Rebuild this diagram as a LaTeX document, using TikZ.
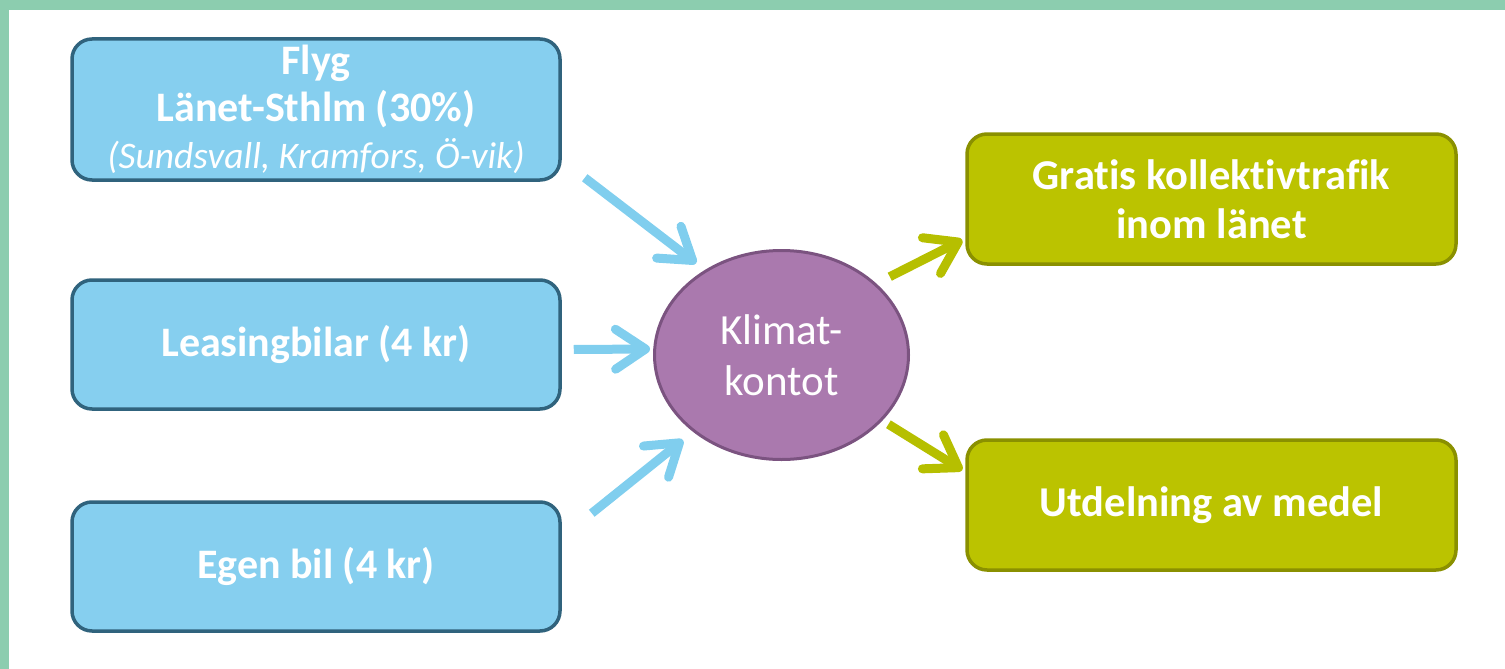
\documentclass[tikz,border=0pt]{standalone}
\usepackage{fontspec}
\setmainfont{Carlito}[Ligatures=NoCommon]
\usetikzlibrary{arrows.meta,shapes.geometric}
\definecolor{framegreen}{HTML}{8CCDAF}
\definecolor{srcfill}{HTML}{86CFEF}
\definecolor{srcline}{HTML}{30637D}
\definecolor{usefill}{HTML}{BBC300}
\definecolor{useline}{HTML}{8A9000}
\definecolor{potfill}{HTML}{AA79AE}
\definecolor{potline}{HTML}{7B5380}
\definecolor{feedblue}{HTML}{80CEEE}
\definecolor{feedgreen}{HTML}{B6BF00}
\tikzstyle{source}=[rectangle,draw=srcline,fill=srcfill,line width=3.5pt,rounded corners=20pt,minimum width=488pt,text=white,align=center,font=\fontsize{42}{47}\selectfont\bfseries]
\tikzstyle{target}=[rectangle,draw=useline,fill=usefill,line width=3.5pt,rounded corners=20pt,minimum width=489pt,minimum height=130pt,text=white,align=center,font=\fontsize{42.5}{49}\selectfont\bfseries]
\tikzstyle{pot}=[ellipse,draw=potline,fill=potfill,line width=3pt,minimum width=254pt,minimum height=209pt,inner sep=0pt,text=white,align=center,font=\fontsize{43}{51}\selectfont]
\tikzstyle{feed}=[line width=9pt,-{Straight Barb[length=30pt,width=40pt,round]}]

\begin{document}
\begin{tikzpicture}[x=1pt,y=-1pt]
\def \lx {316};
\def \rx {1211.5};

\useasboundingbox (0,0) rectangle (1505,669);
\fill[framegreen] (0,0) rectangle (1505,10);
\fill[framegreen] (0,0) rectangle (9,669);

% sources
\node[source,minimum height=141pt] (flyg) at (\lx,109.5)
	{Flyg\\Länet-Sthlm (30\%)\\{\fontsize{37.5}{47}\selectfont\mdseries\itshape (Sundsvall, Kramfors, Ö-vik)}};
\node[source,minimum height=129pt] (leasing) at (\lx,344.5) {Leasingbilar (4 kr)};
\node[source,minimum height=129pt] (egen) at (\lx,566.5) {Egen bil (4 kr)};

% account
\node[pot] (klimat) at (781.5,355) {Klimat-\\kontot};

% uses
\node[target] (gratis) at (\rx,199) {Gratis kollektivtrafik\\inom länet};
\node[target] (utdel) at (\rx,505) {Utdelning av medel};

% arrows in
\draw[feed,feedblue,shorten >=11pt] ([shift={(23,-4)}]flyg.south east) -- (klimat.132);
\draw[feed,feedblue] ([shift={(12,5)}]leasing.east) -- ([shift={(-3,-6)}]klimat.west);
\draw[feed,feedblue,shorten >=13pt] ([shift={(30,13)}]egen.north east) -- (klimat.221);

% arrows out
\draw[feed,feedgreen,shorten <=15pt] (klimat.37) -- ([shift={(-3,41)}]gratis.west);
\draw[feed,feedgreen,shorten <=7pt] (klimat.-33) -- ([shift={(-3,-35)}]utdel.west);

\end{tikzpicture}
\end{document}
